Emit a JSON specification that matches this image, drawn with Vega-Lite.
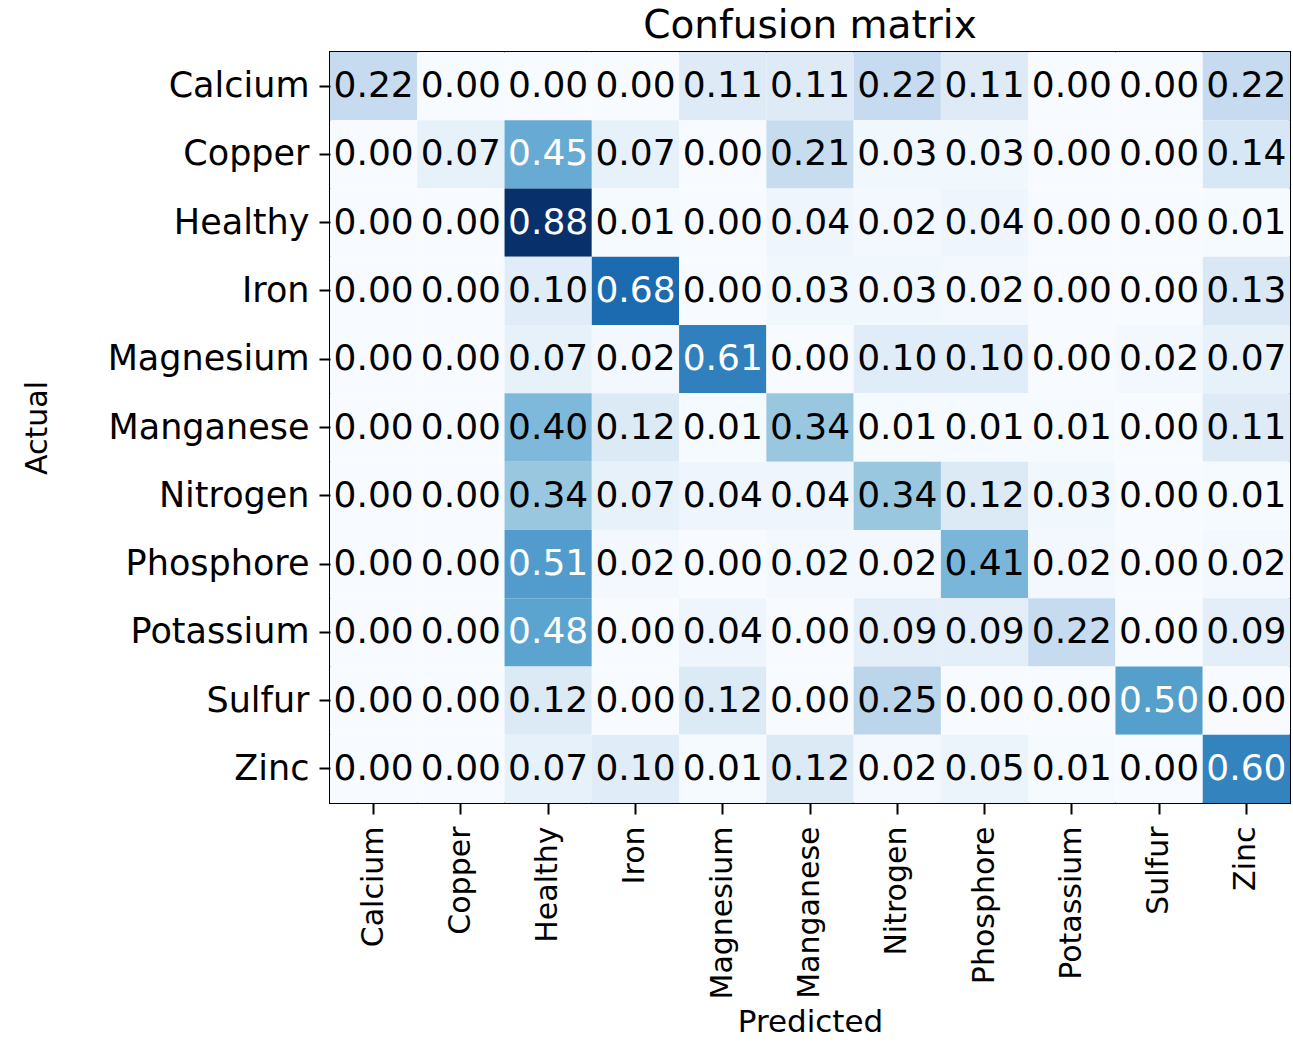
{
  "$schema": "https://vega.github.io/schema/vega-lite/v6.json",
  "autosize": "none",
  "width": 960,
  "height": 751,
  "padding": {"left": 330, "top": 52, "right": 3, "bottom": 241},
  "background": "white",
  "config": {
    "font": "DejaVu Sans",
    "view": {"stroke": "black", "strokeWidth": 2},
    "axis": {"labelColor": "black", "titleColor": "black", "tickColor": "black", "domain": false, "grid": false, "titleFontWeight": "normal", "labelLimit": 0}
  },
  "title": {"text": "Confusion matrix", "fontSize": 39, "fontWeight": "normal", "color": "black", "offset": 6, "font": "DejaVu Sans"},
  "datasets": {
    "cm": [
      {"actual":"Calcium","predicted":"Calcium","value":0.22},{"actual":"Calcium","predicted":"Copper","value":0.00},{"actual":"Calcium","predicted":"Healthy","value":0.00},{"actual":"Calcium","predicted":"Iron","value":0.00},{"actual":"Calcium","predicted":"Magnesium","value":0.11},{"actual":"Calcium","predicted":"Manganese","value":0.11},{"actual":"Calcium","predicted":"Nitrogen","value":0.22},{"actual":"Calcium","predicted":"Phosphore","value":0.11},{"actual":"Calcium","predicted":"Potassium","value":0.00},{"actual":"Calcium","predicted":"Sulfur","value":0.00},{"actual":"Calcium","predicted":"Zinc","value":0.22},
      {"actual":"Copper","predicted":"Calcium","value":0.00},{"actual":"Copper","predicted":"Copper","value":0.07},{"actual":"Copper","predicted":"Healthy","value":0.45},{"actual":"Copper","predicted":"Iron","value":0.07},{"actual":"Copper","predicted":"Magnesium","value":0.00},{"actual":"Copper","predicted":"Manganese","value":0.21},{"actual":"Copper","predicted":"Nitrogen","value":0.03},{"actual":"Copper","predicted":"Phosphore","value":0.03},{"actual":"Copper","predicted":"Potassium","value":0.00},{"actual":"Copper","predicted":"Sulfur","value":0.00},{"actual":"Copper","predicted":"Zinc","value":0.14},
      {"actual":"Healthy","predicted":"Calcium","value":0.00},{"actual":"Healthy","predicted":"Copper","value":0.00},{"actual":"Healthy","predicted":"Healthy","value":0.88},{"actual":"Healthy","predicted":"Iron","value":0.01},{"actual":"Healthy","predicted":"Magnesium","value":0.00},{"actual":"Healthy","predicted":"Manganese","value":0.04},{"actual":"Healthy","predicted":"Nitrogen","value":0.02},{"actual":"Healthy","predicted":"Phosphore","value":0.04},{"actual":"Healthy","predicted":"Potassium","value":0.00},{"actual":"Healthy","predicted":"Sulfur","value":0.00},{"actual":"Healthy","predicted":"Zinc","value":0.01},
      {"actual":"Iron","predicted":"Calcium","value":0.00},{"actual":"Iron","predicted":"Copper","value":0.00},{"actual":"Iron","predicted":"Healthy","value":0.10},{"actual":"Iron","predicted":"Iron","value":0.68},{"actual":"Iron","predicted":"Magnesium","value":0.00},{"actual":"Iron","predicted":"Manganese","value":0.03},{"actual":"Iron","predicted":"Nitrogen","value":0.03},{"actual":"Iron","predicted":"Phosphore","value":0.02},{"actual":"Iron","predicted":"Potassium","value":0.00},{"actual":"Iron","predicted":"Sulfur","value":0.00},{"actual":"Iron","predicted":"Zinc","value":0.13},
      {"actual":"Magnesium","predicted":"Calcium","value":0.00},{"actual":"Magnesium","predicted":"Copper","value":0.00},{"actual":"Magnesium","predicted":"Healthy","value":0.07},{"actual":"Magnesium","predicted":"Iron","value":0.02},{"actual":"Magnesium","predicted":"Magnesium","value":0.61},{"actual":"Magnesium","predicted":"Manganese","value":0.00},{"actual":"Magnesium","predicted":"Nitrogen","value":0.10},{"actual":"Magnesium","predicted":"Phosphore","value":0.10},{"actual":"Magnesium","predicted":"Potassium","value":0.00},{"actual":"Magnesium","predicted":"Sulfur","value":0.02},{"actual":"Magnesium","predicted":"Zinc","value":0.07},
      {"actual":"Manganese","predicted":"Calcium","value":0.00},{"actual":"Manganese","predicted":"Copper","value":0.00},{"actual":"Manganese","predicted":"Healthy","value":0.40},{"actual":"Manganese","predicted":"Iron","value":0.12},{"actual":"Manganese","predicted":"Magnesium","value":0.01},{"actual":"Manganese","predicted":"Manganese","value":0.34},{"actual":"Manganese","predicted":"Nitrogen","value":0.01},{"actual":"Manganese","predicted":"Phosphore","value":0.01},{"actual":"Manganese","predicted":"Potassium","value":0.01},{"actual":"Manganese","predicted":"Sulfur","value":0.00},{"actual":"Manganese","predicted":"Zinc","value":0.11},
      {"actual":"Nitrogen","predicted":"Calcium","value":0.00},{"actual":"Nitrogen","predicted":"Copper","value":0.00},{"actual":"Nitrogen","predicted":"Healthy","value":0.34},{"actual":"Nitrogen","predicted":"Iron","value":0.07},{"actual":"Nitrogen","predicted":"Magnesium","value":0.04},{"actual":"Nitrogen","predicted":"Manganese","value":0.04},{"actual":"Nitrogen","predicted":"Nitrogen","value":0.34},{"actual":"Nitrogen","predicted":"Phosphore","value":0.12},{"actual":"Nitrogen","predicted":"Potassium","value":0.03},{"actual":"Nitrogen","predicted":"Sulfur","value":0.00},{"actual":"Nitrogen","predicted":"Zinc","value":0.01},
      {"actual":"Phosphore","predicted":"Calcium","value":0.00},{"actual":"Phosphore","predicted":"Copper","value":0.00},{"actual":"Phosphore","predicted":"Healthy","value":0.51},{"actual":"Phosphore","predicted":"Iron","value":0.02},{"actual":"Phosphore","predicted":"Magnesium","value":0.00},{"actual":"Phosphore","predicted":"Manganese","value":0.02},{"actual":"Phosphore","predicted":"Nitrogen","value":0.02},{"actual":"Phosphore","predicted":"Phosphore","value":0.41},{"actual":"Phosphore","predicted":"Potassium","value":0.02},{"actual":"Phosphore","predicted":"Sulfur","value":0.00},{"actual":"Phosphore","predicted":"Zinc","value":0.02},
      {"actual":"Potassium","predicted":"Calcium","value":0.00},{"actual":"Potassium","predicted":"Copper","value":0.00},{"actual":"Potassium","predicted":"Healthy","value":0.48},{"actual":"Potassium","predicted":"Iron","value":0.00},{"actual":"Potassium","predicted":"Magnesium","value":0.04},{"actual":"Potassium","predicted":"Manganese","value":0.00},{"actual":"Potassium","predicted":"Nitrogen","value":0.09},{"actual":"Potassium","predicted":"Phosphore","value":0.09},{"actual":"Potassium","predicted":"Potassium","value":0.22},{"actual":"Potassium","predicted":"Sulfur","value":0.00},{"actual":"Potassium","predicted":"Zinc","value":0.09},
      {"actual":"Sulfur","predicted":"Calcium","value":0.00},{"actual":"Sulfur","predicted":"Copper","value":0.00},{"actual":"Sulfur","predicted":"Healthy","value":0.12},{"actual":"Sulfur","predicted":"Iron","value":0.00},{"actual":"Sulfur","predicted":"Magnesium","value":0.12},{"actual":"Sulfur","predicted":"Manganese","value":0.00},{"actual":"Sulfur","predicted":"Nitrogen","value":0.25},{"actual":"Sulfur","predicted":"Phosphore","value":0.00},{"actual":"Sulfur","predicted":"Potassium","value":0.00},{"actual":"Sulfur","predicted":"Sulfur","value":0.50},{"actual":"Sulfur","predicted":"Zinc","value":0.00},
      {"actual":"Zinc","predicted":"Calcium","value":0.00},{"actual":"Zinc","predicted":"Copper","value":0.00},{"actual":"Zinc","predicted":"Healthy","value":0.07},{"actual":"Zinc","predicted":"Iron","value":0.10},{"actual":"Zinc","predicted":"Magnesium","value":0.01},{"actual":"Zinc","predicted":"Manganese","value":0.12},{"actual":"Zinc","predicted":"Nitrogen","value":0.02},{"actual":"Zinc","predicted":"Phosphore","value":0.05},{"actual":"Zinc","predicted":"Potassium","value":0.01},{"actual":"Zinc","predicted":"Sulfur","value":0.00},{"actual":"Zinc","predicted":"Zinc","value":0.60}
    ]
  },
  "data": {"name": "cm"},
  "encoding": {
    "x": {
      "field": "predicted", "type": "nominal", "title": "Predicted",
      "sort": ["Calcium","Copper","Healthy","Iron","Magnesium","Manganese","Nitrogen","Phosphore","Potassium","Sulfur","Zinc"],
      "scale": {"paddingInner": 0, "paddingOuter": 0},
      "axis": {"labelAngle": -90, "labelFontSize": 30, "titleFontSize": 31, "tickSize": 11, "tickWidth": 2, "labelPadding": 12, "titlePadding": 9, "labelAlign": "right", "labelBaseline": "middle"}
    },
    "y": {
      "field": "actual", "type": "nominal", "title": "Actual",
      "sort": ["Calcium","Copper","Healthy","Iron","Magnesium","Manganese","Nitrogen","Phosphore","Potassium","Sulfur","Zinc"],
      "scale": {"paddingInner": 0, "paddingOuter": 0},
      "axis": {"labelFontSize": 35, "titleFontSize": 30, "tickSize": 11, "tickWidth": 2, "labelPadding": 10, "titlePadding": 78}
    }
  },
  "layer": [
    {
      "mark": {"type": "rect"},
      "encoding": {
        "color": {
          "field": "value", "type": "quantitative", "legend": null,
          "scale": {
            "domain": [0, 0.11, 0.22, 0.33, 0.44, 0.55, 0.66, 0.77, 0.88],
            "range": ["#f7fbff", "#deebf7", "#c6dbef", "#9ecae1", "#6baed6", "#4292c6", "#2171b5", "#08519c", "#08306b"],
            "interpolate": "rgb"
          }
        }
      }
    },
    {
      "mark": {"type": "text", "fontSize": 36, "font": "DejaVu Sans", "baseline": "middle", "align": "center"},
      "encoding": {
        "text": {"field": "value", "type": "quantitative", "format": ".2f"},
        "color": {
          "condition": {"test": "datum.value > 0.44", "value": "white"},
          "value": "black"
        }
      }
    }
  ]
}
